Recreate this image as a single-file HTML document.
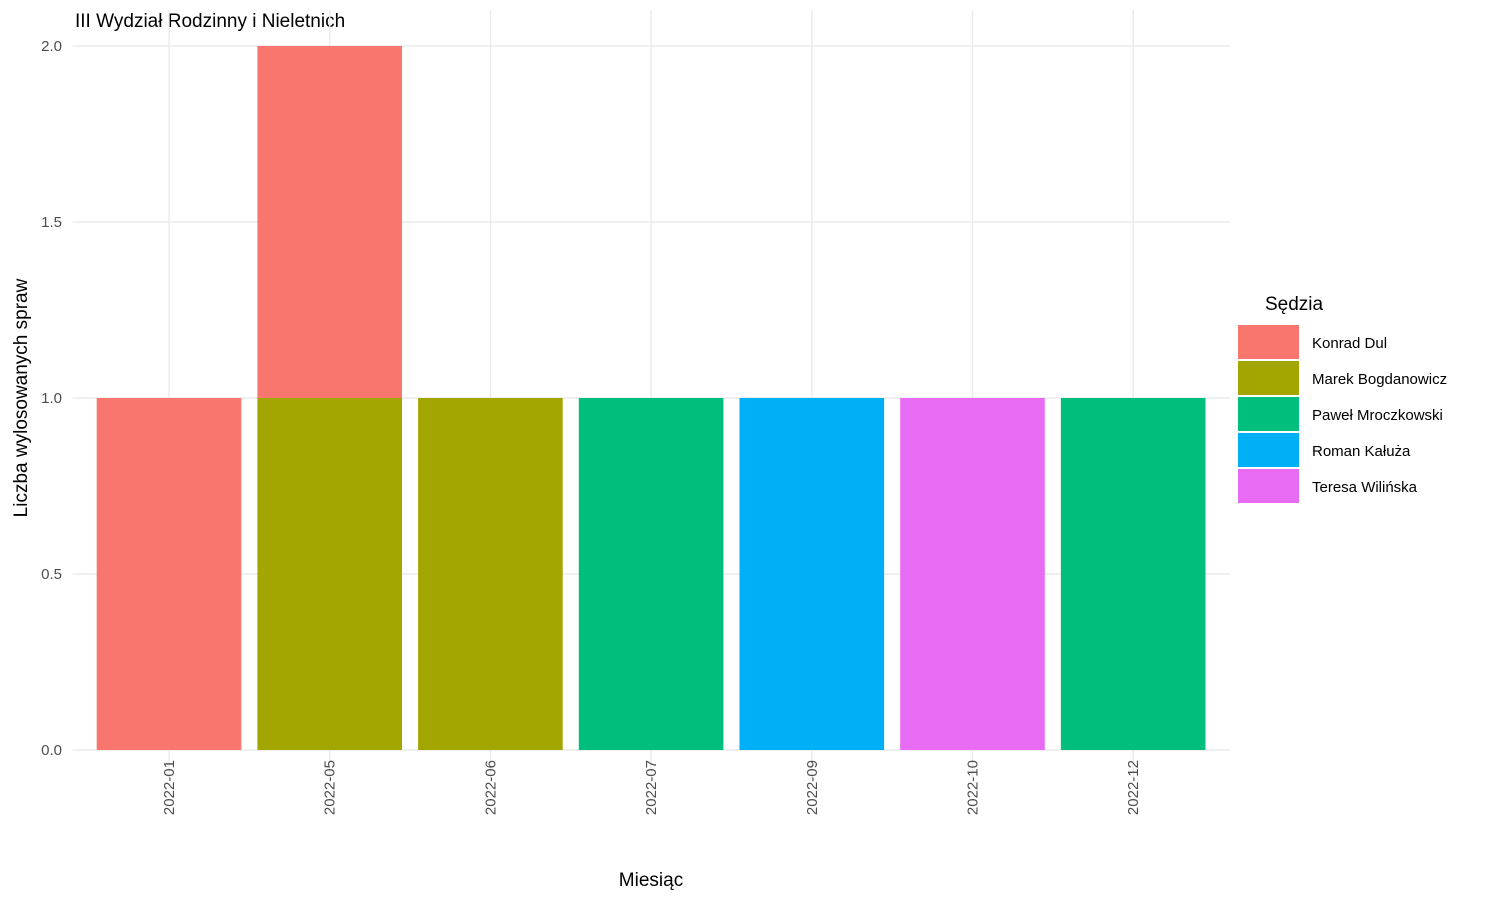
<!DOCTYPE html>
<html><head><meta charset="utf-8">
<style>
html,body{margin:0;padding:0;background:#fff;}
svg{display:block;font-family:"Liberation Sans",Arial,sans-serif;}
</style></head>
<body>
<svg id="chart" width="1500" height="900" viewBox="0 0 1500 900">
  <text x="75" y="27" font-size="19" fill="#000">III Wydział Rodzinny i Nieletnich</text>
  <g id="grid"></g>
  <g id="bars"></g>
  <g id="yticks"></g>
  <g id="xticks"></g>
  <text x="651" y="886" font-size="19" text-anchor="middle" fill="#000">Miesiąc</text>
  <text transform="translate(27,398) rotate(-90)" font-size="19" text-anchor="middle" fill="#000">Liczba wylosowanych spraw</text>
  <g id="legend"></g>
</svg>
<script>
const categories = ["2022-01","2022-05","2022-06","2022-07","2022-09","2022-10","2022-12"];
const judges = ["Konrad Dul","Marek Bogdanowicz","Paweł Mroczkowski","Roman Kałuża","Teresa Wilińska"];
const colors = ["#F8766D","#A3A500","#00BF7D","#00B0F6","#E76BF3"];
// stacking order bottom-to-top: later judges lower (ggplot default)
const konradDul = [1,1,0,0,0,0,0];
const marekBogdanowicz = [0,1,1,0,0,0,0];
const pawelMroczkowski = [0,0,0,1,0,0,1];
const romanKaluza = [0,0,0,0,1,0,0];
const teresaWilinska = [0,0,0,0,0,1,0];
const series = [konradDul, marekBogdanowicz, pawelMroczkowski, romanKaluza, teresaWilinska];
const yTicks = [0,0.5,1,1.5,2];
const yTickLabels = ["0.0","0.5","1.0","1.5","2.0"];

const NS = "http://www.w3.org/2000/svg";
const panelL = 72.6, panelR = 1229.6, y0 = 750, yTop = 46, yMax = 2;
const step = (panelR - panelL) / (categories.length + 0.2);
function xCenter(i){ return panelL + step*(0.6 + i); }
function yScale(v){ return y0 - (y0 - yTop) * v / yMax; }
const barW = step*0.9;

function mk(tag, attrs, parent){
  const el = document.createElementNS(NS, tag);
  for (const k in attrs) el.setAttribute(k, attrs[k]);
  parent.appendChild(el);
  return el;
}
const grid = document.getElementById('grid');
yTicks.forEach((t,i)=>{
  const l = mk('line',{x1:panelL,x2:panelR,y1:yScale(t),y2:yScale(t),stroke:'#ebebeb','stroke-width':1.4},grid);
  
  
  const tx = mk('text',{x:62,y:yScale(t)+5,'font-size':15,fill:'#4d4d4d','text-anchor':'end'},document.getElementById('yticks'));
  tx.textContent = yTickLabels[i];
  
  
});
categories.forEach((c,i)=>{
  const x = xCenter(i);
  const l = mk('line',{x1:x,x2:x,y1:10,y2:y0+28,stroke:'#ebebeb','stroke-width':1.4},grid);
  
  
  const tx = mk('text',{transform:`translate(${x+5},760) rotate(-90)`,'font-size':15,fill:'#4d4d4d','text-anchor':'end'},document.getElementById('xticks'));
  tx.textContent = c;
  
  
});
const bars = document.getElementById('bars');
categories.forEach((c,i)=>{
  let cum = 0;
  for (let s = series.length-1; s >= 0; s--){
    const v = series[s][i];
    if (!v) continue;
    const r = mk('rect',{x:xCenter(i)-barW/2,y:yScale(cum+v),width:barW,height:yScale(cum)-yScale(cum+v),fill:colors[s]},bars);
    
    
    cum += v;
  }
});
const lg = document.getElementById('legend');
const lt = mk('text',{x:1265,y:310,'font-size':19,fill:'#000'},lg);
lt.textContent = 'Sędzia';


judges.forEach((j,i)=>{
  const y = 325 + i*36;
  const r = mk('rect',{x:1238,y:y,width:61,height:34,fill:colors[i]},lg);
  
  
  const t = mk('text',{x:1312,y:y+23,'font-size':15,fill:'#000'},lg);
  t.textContent = j;
  
  
});
</script>
</body></html>
